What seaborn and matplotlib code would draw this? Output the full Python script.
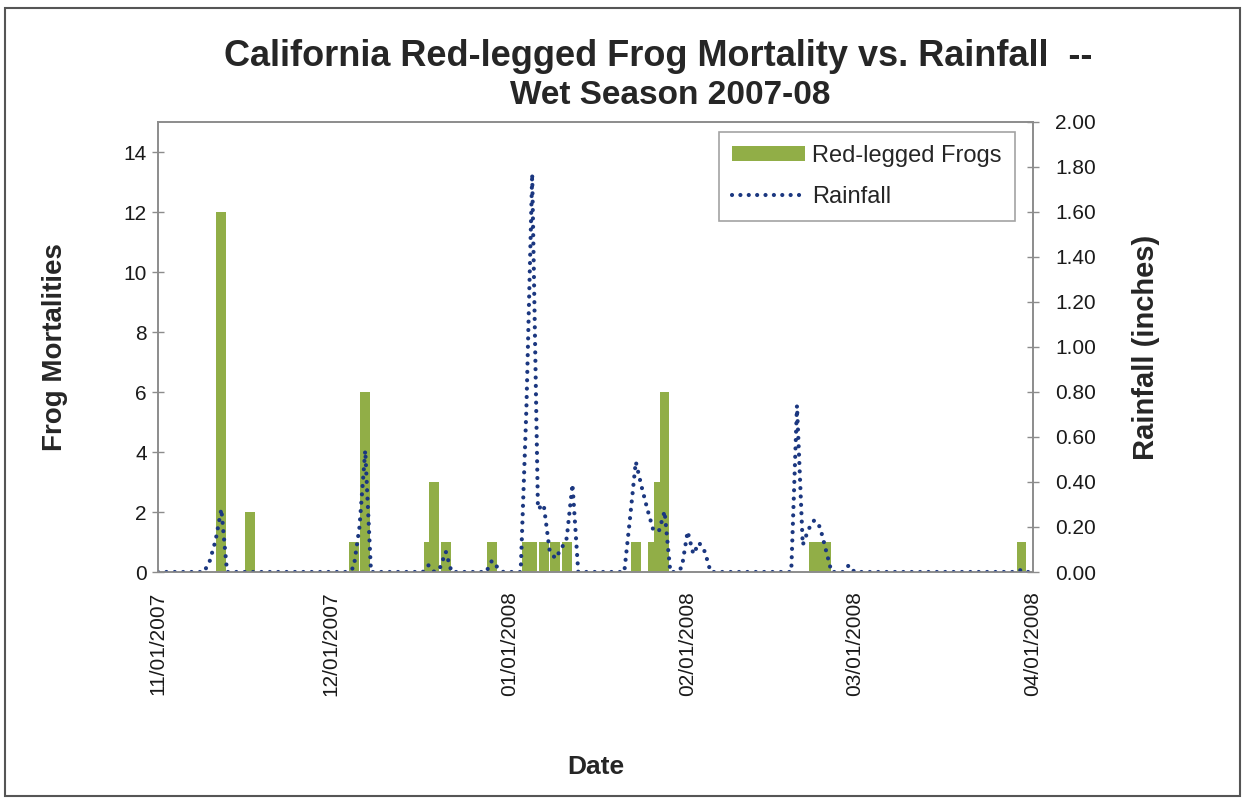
import matplotlib
matplotlib.use("Agg")
import matplotlib.pyplot as plt
import matplotlib.dates as mdates
from matplotlib.patches import Patch, Rectangle
from matplotlib.lines import Line2D
from matplotlib.ticker import FormatStrFormatter, MultipleLocator
import pandas as pd
import seaborn as sns

# Frog mortalities found on each survey date
frog_dates = [
    "2007-11-12", "2007-11-17", "2007-12-05", "2007-12-07", "2007-12-18",
    "2007-12-19", "2007-12-21", "2007-12-29", "2008-01-04", "2008-01-05",
    "2008-01-07", "2008-01-09", "2008-01-11", "2008-01-23", "2008-01-26",
    "2008-01-27", "2008-01-28", "2008-02-23", "2008-02-24", "2008-02-25",
    "2008-03-30",
]
frog_counts = [12, 2, 1, 6, 1, 3, 1, 1, 1, 1, 1, 1, 1, 1, 1, 3, 6, 1, 1, 1, 1]

# Daily rainfall (inches), one value per day starting 11/01/2007
rain_nov = [0, 0, 0, 0, 0, 0, 0, 0, 0, 0.05,
            0.14, 0.28, 0, 0, 0, 0, 0, 0, 0, 0,
            0, 0, 0, 0, 0, 0, 0, 0, 0, 0]
rain_dec = [0, 0, 0, 0, 0.02, 0.20, 0.54, 0, 0, 0,
            0, 0, 0, 0, 0, 0, 0, 0.03, 0, 0.02,
            0.09, 0, 0, 0, 0, 0, 0, 0, 0.05, 0.02,
            0]
rain_jan = [0, 0, 0, 0.73, 1.77, 0.28, 0.30, 0.10, 0.06, 0.10,
            0.15, 0.39, 0, 0, 0, 0, 0, 0, 0, 0,
            0, 0.24, 0.49, 0.38, 0.28, 0.19, 0.18, 0.27, 0, 0,
            0.02]
rain_feb = [0.18, 0.08, 0.13, 0.09, 0, 0, 0, 0, 0, 0,
            0, 0, 0, 0, 0, 0, 0, 0, 0, 0.74,
            0.12, 0.19, 0.23, 0.20, 0.10, 0, 0, 0, 0.03]
rain_mar = [0, 0, 0, 0, 0, 0, 0, 0, 0, 0,
            0, 0, 0, 0, 0, 0, 0, 0, 0, 0,
            0, 0, 0, 0, 0, 0, 0, 0, 0, 0.01,
            0]
rain_apr = [0]

date_ticks = ["2007-11-01", "2007-12-01", "2008-01-01",
              "2008-02-01", "2008-03-01", "2008-04-01"]

GREEN = "#91AE47"
BLUE = "#1B3780"
AXIS_GRAY = "#8C8C8C"
DOTS = (0, (0.01, 2.0))

sns.set_theme(style="white")
plt.rcParams["font.family"] = ["Liberation Sans", "DejaVu Sans"]

rain = rain_nov + rain_dec + rain_jan + rain_feb + rain_mar + rain_apr
rain_df = pd.DataFrame({
    "Date": pd.date_range("2007-11-01", periods=len(rain), freq="D"),
    "Rainfall": rain,
})
frogs = pd.DataFrame({"Date": pd.to_datetime(frog_dates), "Frogs": frog_counts})

W, H = 1245, 799
fig = plt.figure(figsize=(W / 100, H / 100), dpi=100)
fig.patch.set_facecolor("white")
left, right, top, bottom = 158, 1033, 122, 572
ax = fig.add_axes([left / W, 1 - bottom / H, (right - left) / W, (bottom - top) / H])
ax2 = ax.twinx()

# Frog mortality columns on the left axis
ax.bar(frogs["Date"], frogs["Frogs"], width=1.7, color=GREEN,
       edgecolor="none", zorder=2)

# Rainfall as a dotted line on the right axis
sns.lineplot(data=rain_df, x="Date", y="Rainfall", ax=ax2, color=BLUE,
             linewidth=3.0, linestyle=DOTS, dash_capstyle="round", legend=False)

tick_dates = pd.to_datetime(date_ticks)
ax.set_xlim(tick_dates[0], tick_dates[-1])
ax.set_xticks(tick_dates)
ax.xaxis.set_major_formatter(mdates.DateFormatter("%m/%d/%Y"))
for lab in ax.get_xticklabels():
    lab.set_rotation(90)

ax.set_ylim(0, 15)
ax.set_yticks(range(0, 15, 2))
ax2.set_ylim(0, 2.0)
ax2.yaxis.set_major_locator(MultipleLocator(0.2))
ax2.yaxis.set_major_formatter(FormatStrFormatter("%.2f"))

for a in (ax, ax2):
    for s in a.spines.values():
        s.set_color(AXIS_GRAY)
        s.set_linewidth(1.2)
    a.tick_params(axis="both", direction="inout", length=8, width=1.0,
                  color=AXIS_GRAY, labelcolor="#1a1a1a")
ax.tick_params(axis="x", labelsize=15, pad=10)
ax.tick_params(axis="y", labelsize=15, pad=4)
ax2.tick_params(axis="y", labelsize=15, pad=12)

ax.set_xlabel("Date", fontsize=19, fontweight="bold", labelpad=42)
ax.set_ylabel("Frog Mortalities", fontsize=20, fontweight="bold", labelpad=40)
ax2.set_ylabel("Rainfall (inches)", fontsize=21, fontweight="bold", labelpad=26)

handles = [
    Patch(facecolor=GREEN, edgecolor="none"),
    Line2D([], [], color=BLUE, linewidth=3.0, linestyle=DOTS,
           dash_capstyle="round"),
]
leg = ax2.legend(handles, ["Red-legged Frogs", "Rainfall"], loc="upper right",
                 bbox_to_anchor=(0.979, 0.978), fontsize=17, frameon=True,
                 fancybox=False, edgecolor=AXIS_GRAY, handlelength=3.1,
                 handleheight=0.6, borderpad=0.55, labelspacing=0.8,
                 handletextpad=0.3, borderaxespad=0)
leg.get_frame().set_linewidth(1.2)

fig.text(658 / W, 1 - 57 / H, "California Red-legged Frog Mortality vs. Rainfall  --",
         ha="center", va="center", fontsize=26, fontweight="bold")
fig.text(670 / W, 1 - 96 / H, "Wet Season 2007-08",
         ha="center", va="center", fontsize=24, fontweight="bold")

# Chart border
fig.add_artist(Rectangle((0.004, 0.004), 0.992, 0.986, transform=fig.transFigure,
                         fill=False, edgecolor="#555555", linewidth=1.5))

fig.savefig("out.png", dpi=100, facecolor="white")
